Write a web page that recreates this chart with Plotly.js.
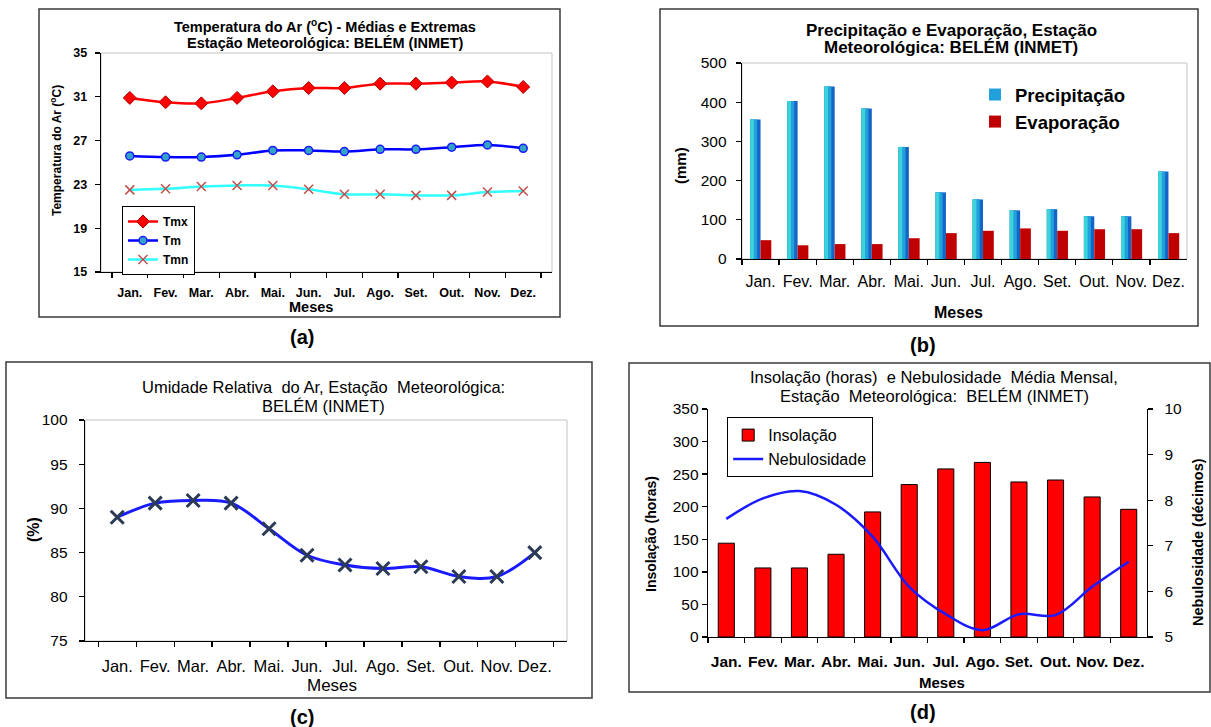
<!DOCTYPE html>
<html><head><meta charset="utf-8">
<script src="https://cdn.plot.ly/plotly-3.0.1.min.js"></script>
<style>html,body{margin:0;padding:0;background:#fff;}#chart{width:1211px;height:727px;}</style>
</head><body><div id="chart"></div>
<script>
// ---------- data ----------
const months = ['Jan.','Fev.','Mar.','Abr.','Mai.','Jun.','Jul.','Ago.','Set.','Out.','Nov.','Dez.'];
// (a) temperatura do ar (°C)
const tmx = [30.9,30.5,30.4,30.9,31.5,31.8,31.8,32.2,32.2,32.3,32.4,31.9];
const tm  = [25.6,25.5,25.5,25.7,26.1,26.1,26.0,26.2,26.2,26.4,26.6,26.3];
const tmn = [22.5,22.6,22.8,22.9,22.9,22.55,22.1,22.1,22.0,22.0,22.3,22.4];
// (b) precipitação e evaporação (mm)
const precip = [356,403,440,384,286,170,152,124,127,109,109,223];
const evap   = [48,35,38,38,53,66,72,78,72,76,76,66];
// (c) umidade relativa (%)
const umidade = [89.0,90.6,90.9,90.6,87.7,84.7,83.6,83.2,83.4,82.3,82.3,85.0];
// (d) insolação (horas) e nebulosidade (décimos)
const insolacao    = [144,106,106,127,192,234,258,268,238,241,215,196];
const nebulosidade = [7.59,8.04,8.2,7.9,7.2,6.1,5.5,5.15,5.5,5.48,6.1,6.65];
// tick labels
const ticksA = [15,19,23,27,31,35];

// ---------- helpers ----------
const W = 1211, H = 727;
const px = x => x / W;
const py = y => 1 - y / H;
const dom = (a, b) => [px(a), px(b)];
const domY = (top, bot) => [py(bot), py(top)];
const ARIAL = 'Liberation Sans, Arial, sans-serif';

function ann(text, x, y, size, opts = {}) {
  return Object.assign({
    text, x: px(x), y: py(y), xref: 'paper', yref: 'paper',
    xanchor: 'center', yanchor: 'middle', showarrow: false,
    font: { family: ARIAL, size, color: opts.color || '#000', weight: opts.weight || 'normal' }
  }, opts.extra || {});
}
function frame(x0, y0, x1, y1) {
  return { type: 'rect', xref: 'paper', yref: 'paper', x0: px(x0), x1: px(x1), y0: py(y1), y1: py(y0),
           line: { color: '#3a3a3a', width: 1.5 }, fillcolor: 'rgba(0,0,0,0)', layer: 'above' };
}
function plotBorder(xa, ya) {
  return { type: 'rect', xref: xa + ' domain', yref: ya + ' domain', x0: 0, x1: 1, y0: 0, y1: 1,
           line: { color: '#c4c4c4', width: 1 }, fillcolor: 'rgba(0,0,0,0)', layer: 'below' };
}

const baseX = (domain, anchor, size, weight, standoff) => ({
  domain, anchor, type: 'category', showgrid: false, zeroline: false,
  showline: true, linecolor: '#000', linewidth: 1.3, tickangle: 0,
  ticks: 'outside', tickson: 'boundaries', ticklen: 5, tickcolor: '#000', tickwidth: 1.3,
  tickfont: { family: ARIAL, size, color: '#000', weight }, ticklabelstandoff: standoff,
  fixedrange: true
});
const baseY = (domain, anchor, range, dtick, size, weight, standoff) => ({
  domain, anchor, range, dtick, tick0: range[0], showgrid: false, zeroline: false,
  showline: true, linecolor: '#000', linewidth: 1.3,
  ticks: 'outside', ticklen: 5, tickcolor: '#000', tickwidth: 1.3,
  tickfont: { family: ARIAL, size, color: '#000', weight }, ticklabelstandoff: standoff,
  fixedrange: true
});

// ---------- traces ----------
const traces = [
  // (a)
  { x: months, y: tmx, name: 'Tmx', xaxis: 'x', yaxis: 'y', type: 'scatter', mode: 'lines+markers', legend: 'legend',
    line: { color: '#ff0000', width: 2.5, shape: 'spline' },
    marker: { symbol: 'diamond', size: 10, color: '#ff0000', line: { color: '#b00000', width: 1 } } },
  { x: months, y: tm, name: 'Tm', xaxis: 'x', yaxis: 'y', type: 'scatter', mode: 'lines+markers', legend: 'legend',
    line: { color: '#0000ff', width: 2.5, shape: 'spline' },
    marker: { symbol: 'circle', size: 8, color: '#33a3c6', line: { color: '#1a1aff', width: 1.5 } } },
  { x: months, y: tmn, name: 'Tmn', xaxis: 'x', yaxis: 'y', type: 'scatter', mode: 'lines+markers', legend: 'legend',
    line: { color: '#33ffff', width: 2.5, shape: 'spline' },
    marker: { symbol: 'x-thin', size: 9, color: '#c0504d', line: { color: '#c0504d', width: 1.5 } } },
  // (b) precipitation drawn as a stepped cyan->blue gradient
  { x: months, y: precip, name: 'Precipitação', xaxis: 'x2', yaxis: 'y2', type: 'bar', legend: 'legend2',
    showlegend: false, offset: -0.28, width: 0.28, marker: { color: '#1565c6', line: { width: 0 } } },
  { x: months, y: precip, name: 'Precipitação', xaxis: 'x2', yaxis: 'y2', type: 'bar', legend: 'legend2',
    offset: -0.28, width: 0.19, marker: { color: '#22a0dc', line: { width: 0 } } },
  { x: months, y: precip, name: 'Precipitação', xaxis: 'x2', yaxis: 'y2', type: 'bar', legend: 'legend2',
    showlegend: false, offset: -0.28, width: 0.1, marker: { color: '#3cd3da', line: { width: 0 } } },
  { x: months, y: evap, name: 'Evaporação', xaxis: 'x2', yaxis: 'y2', type: 'bar', legend: 'legend2',
    offset: 0, width: 0.29, marker: { color: '#c00000', line: { width: 0 } } },
  // (c)
  { x: months, y: umidade, name: 'Umidade', xaxis: 'x3', yaxis: 'y3', type: 'scatter', mode: 'lines+markers', showlegend: false,
    line: { color: '#1a1aff', width: 3, shape: 'spline' },
    marker: { symbol: 'x-thin', size: 13, color: '#2b3a55', line: { color: '#2b3a55', width: 3 } } },
  // (d)
  { x: months, y: insolacao, name: 'Insolação', xaxis: 'x4', yaxis: 'y4', type: 'bar', legend: 'legend3',
    offset: -0.22, width: 0.44, marker: { color: '#ff0000', line: { color: '#000', width: 1 } } },
  { x: months, y: nebulosidade, name: 'Nebulosidade', xaxis: 'x4', yaxis: 'y5', type: 'scatter', mode: 'lines', legend: 'legend3',
    line: { color: '#1a1aff', width: 2.5, shape: 'spline' } }
];

// ---------- layout ----------
const layout = {
  width: W, height: H, margin: { l: 0, r: 0, t: 0, b: 0 },
  paper_bgcolor: '#fff', plot_bgcolor: 'rgba(0,0,0,0)', barmode: 'overlay',
  font: { family: ARIAL, color: '#000' },
  xaxis:  baseX(dom(101, 552), 'y', 12.5, 'bold', 9),
  yaxis:  Object.assign(baseY(domY(53, 272), 'x', [15, 35], 4, 12.5, 'bold', 5), { tickvals: ticksA }),
  xaxis2: baseX(dom(742, 1187), 'y2', 16, 'normal', 7),
  yaxis2: baseY(domY(63, 259), 'x2', [0, 500], 100, 15.5, 'normal', 6),
  xaxis3: baseX(dom(85, 567), 'y3', 16.5, 'normal', 10),
  yaxis3: baseY(domY(420, 641), 'x3', [75, 100], 5, 15.5, 'normal', 8),
  xaxis4: baseX(dom(708, 1147), 'y4', 15.5, 'bold', 10),
  yaxis4: baseY(domY(409, 637), 'x4', [0, 350], 50, 15.5, 'normal', 6.5),
  yaxis5: Object.assign(baseY(domY(409, 637), 'x4', [5, 10], 1, 15.5, 'normal', 8),
                        { overlaying: 'y4', side: 'right' }),
  legend: { x: px(122), y: py(206), xanchor: 'left', yanchor: 'top', bgcolor: '#fff', traceorder: 'normal',
            bordercolor: '#000', borderwidth: 1, font: { family: ARIAL, size: 12, weight: 'bold', color: '#000' },
            itemwidth: 30 },
  legend2: { x: px(975), y: py(76), xanchor: 'left', yanchor: 'top', bgcolor: 'rgba(0,0,0,0)', traceorder: 'normal',
             borderwidth: 0, font: { family: ARIAL, size: 18.5, weight: 'bold', color: '#000' } },
  legend3: { x: px(727), y: py(417), xanchor: 'left', yanchor: 'top', bgcolor: '#fff', traceorder: 'normal',
             bordercolor: '#000', borderwidth: 1.2, font: { family: ARIAL, size: 16, color: '#000' } },
  shapes: [
    plotBorder('x', 'y'), plotBorder('x2', 'y2'), plotBorder('x3', 'y3'),
    frame(39, 9, 560, 317), frame(660, 9, 1198, 326), frame(6, 362, 592, 698), frame(629, 363, 1210, 692)
  ],
  annotations: [
    // (a)
    ann('Temperatura do Ar (<sup>o</sup>C) - Médias e Extremas', 325, 26, 14.5, { weight: 'bold' }),
    ann('Estação Meteorológica: BELÉM (INMET)', 325, 43, 14.5, { weight: 'bold' }),
    ann('Temperatura do Ar (<sup>o</sup>C)', 56, 151, 12, { weight: 'bold', extra: { textangle: -90 } }),
    ann('Meses', 311, 307, 14.5, { weight: 'bold' }),
    ann('(a)', 302, 337, 20, { weight: 'bold' }),
    // (b)
    ann('Precipitação e Evaporação, Estação', 951, 30, 17, { weight: 'bold' }),
    ann('Meteorológica: BELÉM (INMET)', 951, 48, 17, { weight: 'bold' }),
    ann('(mm)', 681, 166, 15, { weight: 'bold', extra: { textangle: -90 } }),
    ann('Meses', 958, 312, 16, { weight: 'bold' }),
    ann('(b)', 923, 345, 20, { weight: 'bold' }),
    // (c)
    ann('Umidade Relativa  do Ar, Estação  Meteorológica:', 323, 387, 16.5),
    ann('BELÉM (INMET)', 323, 406, 16.5),
    ann('(%)', 33, 530, 16, { weight: 'bold', extra: { textangle: -90 } }),
    ann('Meses', 332, 685, 17),
    ann('(c)', 302, 717, 20, { weight: 'bold' }),
    // (d)
    ann('Insolação (horas)  e Nebulosidade  Média Mensal,', 934, 377, 16.5),
    ann('Estação  Meteorológica:  BELÉM (INMET)', 934, 396, 16.5),
    ann('Insolação (horas)', 651, 534, 14, { weight: 'bold', extra: { textangle: -90 } }),
    ann('Nebulosidade (décimos)', 1198, 542, 14.5, { weight: 'bold', extra: { textangle: -90 } }),
    ann('Meses', 942, 682, 15, { weight: 'bold' }),
    ann('(d)', 923, 712, 20, { weight: 'bold' })
  ]
};

Plotly.newPlot('chart', traces, layout, { staticPlot: true, displayModeBar: false });
</script></body></html>
